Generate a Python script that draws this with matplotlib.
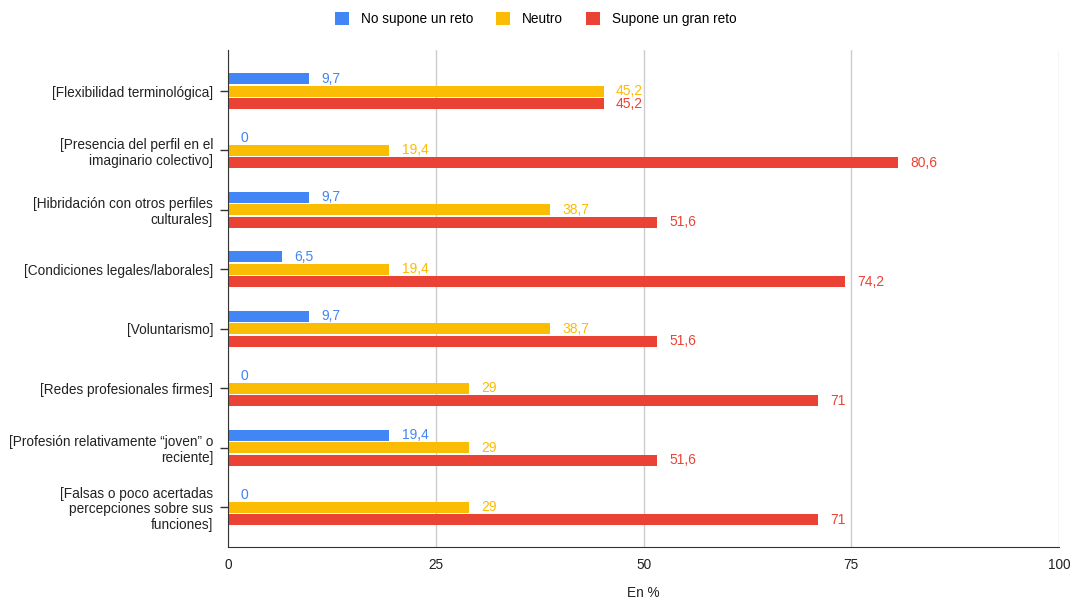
import matplotlib
matplotlib.use("Agg")
import numpy as np
import matplotlib.pyplot as plt
from matplotlib.patches import Patch

# ---- DATA ----
categories = [
    "[Flexibilidad terminológica]",
    "[Presencia del perfil en el\nimaginario colectivo]",
    "[Hibridación con otros perfiles\nculturales]",
    "[Condiciones legales/laborales]",
    "[Voluntarismo]",
    "[Redes profesionales firmes]",
    "[Profesión relativamente \u201cjoven\u201d o\nreciente]",
    "[Falsas o poco acertadas\npercepciones sobre sus\nfunciones]",
]
series_names = ["No supone un reto", "Neutro", "Supone un gran reto"]
no_reto = [9.7, 0, 9.7, 6.5, 9.7, 0, 19.4, 0]
neutro = [45.2, 19.4, 38.7, 19.4, 38.7, 29, 29, 29]
gran_reto = [45.2, 80.6, 51.6, 74.2, 51.6, 71, 51.6, 71]
x_ticks = [0, 25, 50, 75, 100]

# ---- STYLE ----
COLORS = ["#4285F4", "#FBBC04", "#EA4335"]
plt.rcParams["font.family"] = ["Liberation Sans", "DejaVu Sans"]
FS = 9.8

fig = plt.figure(figsize=(10.72, 6.01), dpi=100)
ax = fig.add_axes([228 / 1072, 1 - 547 / 601, (1059 - 228) / 1072, (547 - 50) / 601])

y = np.arange(len(categories))
bar_h = 0.185
offsets = [-0.21, 0.0, 0.21]

for vals, off, color, name in zip([no_reto, neutro, gran_reto], offsets, COLORS, series_names):
    ax.barh(y + off, vals, height=bar_h, color=color, label=name, zorder=3)
    for yi, v in zip(y, vals):
        txt = f"{v:g}".replace(".", ",")
        ax.annotate(txt, (v, yi + off), xytext=(9, 0), textcoords="offset points",
                    ha="left", va="center", color=color, fontsize=10, zorder=4)

ax.set_xlim(0, 100)
ax.set_ylim(7.67, -0.69)
ax.set_xticks(x_ticks)
ax.set_xticklabels([str(t) for t in x_ticks], fontsize=FS, color="#222222")
ax.set_yticks(y)
ax.set_yticklabels(categories, fontsize=FS, color="#222222", ha="right",
                   linespacing=1.15)
ax.tick_params(axis="y", direction="inout", length=11.5, width=1, color="#333333", pad=5)
ax.tick_params(axis="x", length=0, pad=8)

ax.grid(axis="x", color="#cccccc", linewidth=1, zorder=0)
ax.grid(axis="y", visible=False)
for s in ["top", "right"]:
    ax.spines[s].set_visible(False)
ax.spines["left"].set_color("#333333")
ax.spines["bottom"].set_color("#333333")
ax.spines["left"].set_zorder(5)

# x axis title placed in figure coords so it stays inside the canvas
fig.text(643 / 1072, 1 - 593 / 601, "En %", ha="center", va="center",
         fontsize=FS, color="#222222")

handles = [Patch(facecolor=c, edgecolor="none") for c in COLORS]
fig.legend(handles, series_names, loc="upper center", bbox_to_anchor=(0.5, 1.0),
           ncol=3, frameon=False, fontsize=FS, handlelength=1.0, handleheight=1.0,
           columnspacing=1.7, handletextpad=0.9)

fig.savefig("out.png", dpi=100)
